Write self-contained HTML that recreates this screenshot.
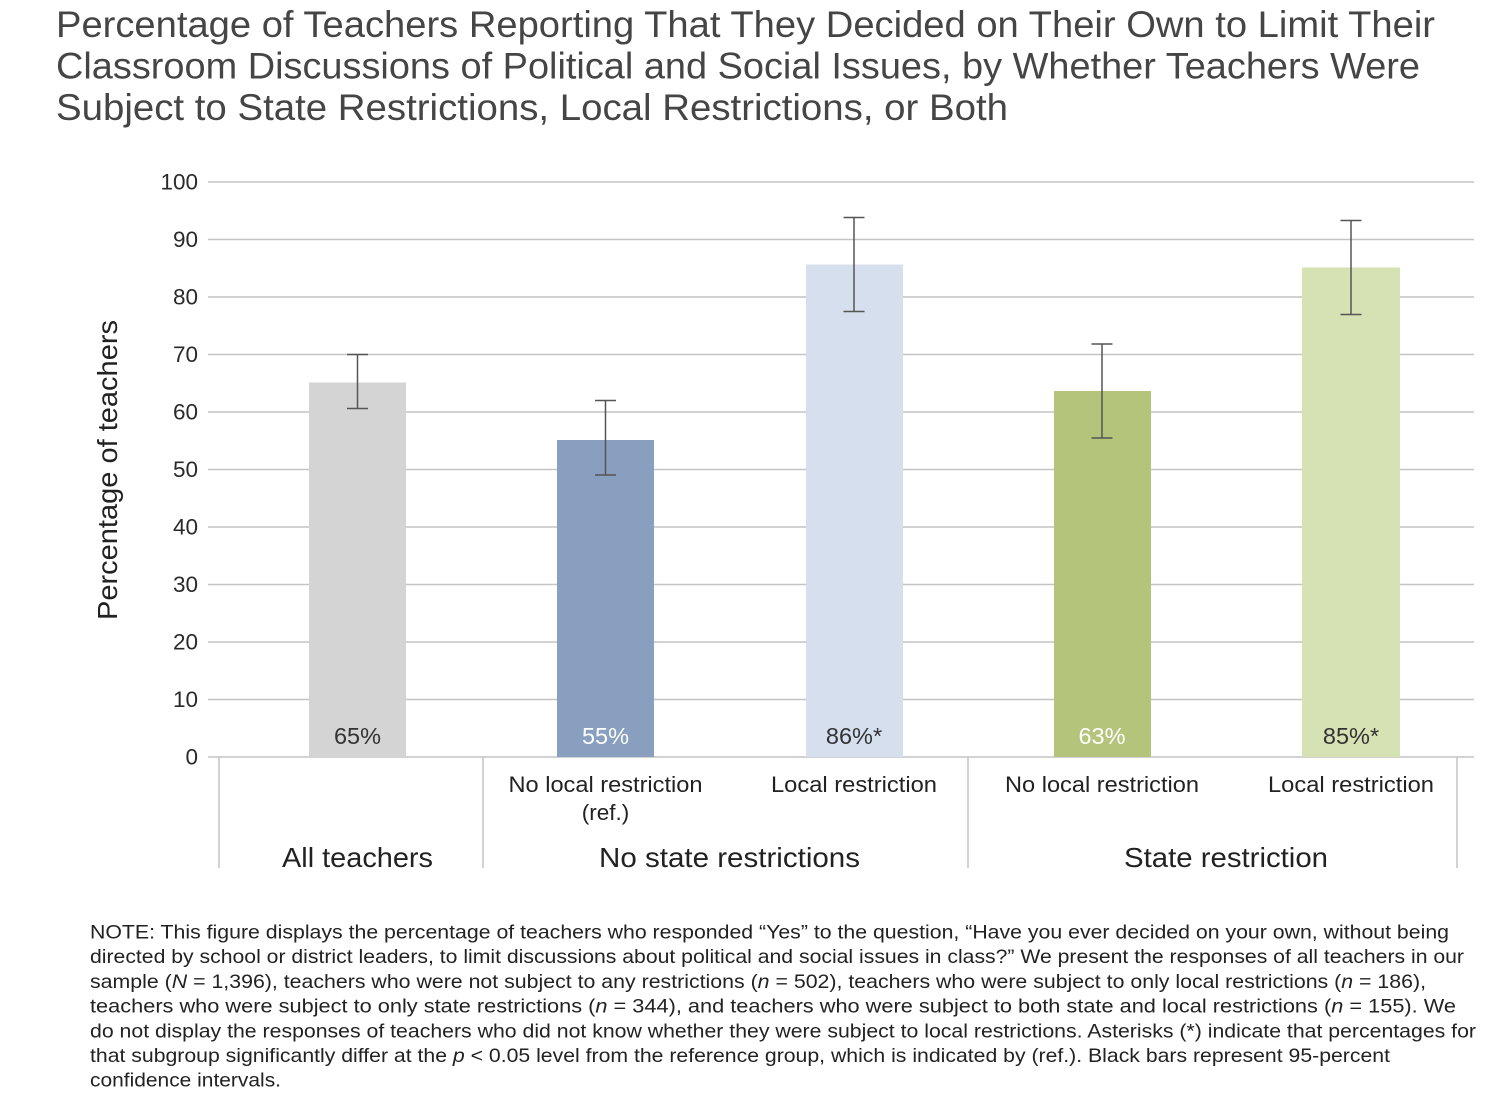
<!DOCTYPE html>
<html>
<head>
<meta charset="utf-8">
<style>
  html, body { margin: 0; padding: 0; background: #ffffff; }
  svg { display: block; }
  text { font-family: "Liberation Sans", "DejaVu Sans", sans-serif; }
</style>
</head>
<body>
<svg width="1500" height="1102" viewBox="0 0 1500 1102" xmlns="http://www.w3.org/2000/svg">
  <rect x="0" y="0" width="1500" height="1102" fill="#ffffff"/>

  <!-- Title -->
  <g fill="#454545" font-size="37">
    <text x="56" y="37" textLength="1379" lengthAdjust="spacingAndGlyphs">Percentage of Teachers Reporting That They Decided on Their Own to Limit Their</text>
    <text x="56" y="78.5" textLength="1364" lengthAdjust="spacingAndGlyphs">Classroom Discussions of Political and Social Issues, by Whether Teachers Were</text>
    <text x="56" y="120" textLength="952" lengthAdjust="spacingAndGlyphs">Subject to State Restrictions, Local Restrictions, or Both</text>
  </g>

  <!-- Gridlines -->
  <g stroke="#c4c4c4" stroke-width="1.5">
    <line x1="208" y1="182" x2="1474" y2="182"/>
    <line x1="208" y1="239.5" x2="1474" y2="239.5"/>
    <line x1="208" y1="297" x2="1474" y2="297"/>
    <line x1="208" y1="354.5" x2="1474" y2="354.5"/>
    <line x1="208" y1="412" x2="1474" y2="412"/>
    <line x1="208" y1="469.5" x2="1474" y2="469.5"/>
    <line x1="208" y1="527" x2="1474" y2="527"/>
    <line x1="208" y1="584.5" x2="1474" y2="584.5"/>
    <line x1="208" y1="642" x2="1474" y2="642"/>
    <line x1="208" y1="699.5" x2="1474" y2="699.5"/>
    <line x1="208" y1="757" x2="1474" y2="757"/>
  </g>

  <!-- Y tick labels -->
  <g fill="#2a2a2a" font-size="22.5" text-anchor="end">
    <text x="198" y="189.5">100</text>
    <text x="198" y="247">90</text>
    <text x="198" y="304.5">80</text>
    <text x="198" y="362">70</text>
    <text x="198" y="419.5">60</text>
    <text x="198" y="477">50</text>
    <text x="198" y="534.5">40</text>
    <text x="198" y="592">30</text>
    <text x="198" y="649.5">20</text>
    <text x="198" y="707">10</text>
    <text x="198" y="764.5">0</text>
  </g>

  <!-- Y axis title -->
  <text transform="translate(117,470) rotate(-90)" text-anchor="middle" font-size="28" fill="#222" textLength="300" lengthAdjust="spacingAndGlyphs">Percentage of teachers</text>

  <!-- Bars -->
  <rect x="309" y="382.5" width="97" height="374.5" fill="#d4d4d4"/>
  <rect x="557" y="440" width="97" height="317" fill="#889fbf"/>
  <rect x="806" y="264.5" width="97" height="492.5" fill="#d5dfee"/>
  <rect x="1054" y="391" width="97" height="366" fill="#b4c57b"/>
  <rect x="1302" y="267.5" width="98" height="489.5" fill="#d6e1b4"/>

  <!-- Error bars -->
  <g stroke="#555" stroke-width="1.5" fill="none">
    <line x1="357.5" y1="354.5" x2="357.5" y2="408.5"/>
    <line x1="347" y1="354.5" x2="368" y2="354.5"/>
    <line x1="347" y1="408.5" x2="368" y2="408.5"/>

    <line x1="605.5" y1="400.5" x2="605.5" y2="475"/>
    <line x1="595" y1="400.5" x2="616" y2="400.5"/>
    <line x1="595" y1="475" x2="616" y2="475"/>

    <line x1="854" y1="217.5" x2="854" y2="311.5"/>
    <line x1="843.5" y1="217.5" x2="864.5" y2="217.5"/>
    <line x1="843.5" y1="311.5" x2="864.5" y2="311.5"/>

    <line x1="1102" y1="344" x2="1102" y2="438"/>
    <line x1="1091.5" y1="344" x2="1112.5" y2="344"/>
    <line x1="1091.5" y1="438" x2="1112.5" y2="438"/>

    <line x1="1351" y1="220.5" x2="1351" y2="314.5"/>
    <line x1="1340.5" y1="220.5" x2="1361.5" y2="220.5"/>
    <line x1="1340.5" y1="314.5" x2="1361.5" y2="314.5"/>
  </g>

  <!-- Bar value labels -->
  <g font-size="23.5" text-anchor="middle">
    <text x="357.5" y="744" fill="#333">65%</text>
    <text x="605.5" y="744" fill="#ffffff">55%</text>
    <text x="854" y="744" fill="#333">86%*</text>
    <text x="1102" y="744" fill="#ffffff">63%</text>
    <text x="1351" y="744" fill="#333">85%*</text>
  </g>

  <!-- Category dividers -->
  <g stroke="#c4c4c4" stroke-width="1.5">
    <line x1="219" y1="757" x2="219" y2="868"/>
    <line x1="483" y1="757" x2="483" y2="868"/>
    <line x1="968" y1="757" x2="968" y2="868"/>
    <line x1="1457" y1="757" x2="1457" y2="868"/>
  </g>

  <!-- Sub category labels -->
  <g font-size="22.5" fill="#222" text-anchor="middle">
    <text x="605.5" y="792" textLength="194" lengthAdjust="spacingAndGlyphs">No local restriction</text>
    <text x="605.5" y="820">(ref.)</text>
    <text x="854" y="792" textLength="166" lengthAdjust="spacingAndGlyphs">Local restriction</text>
    <text x="1102" y="792" textLength="194" lengthAdjust="spacingAndGlyphs">No local restriction</text>
    <text x="1351" y="792" textLength="166" lengthAdjust="spacingAndGlyphs">Local restriction</text>
  </g>

  <!-- Group labels -->
  <g font-size="28" fill="#222" text-anchor="middle">
    <text x="357.5" y="867" textLength="151" lengthAdjust="spacingAndGlyphs">All teachers</text>
    <text x="729.5" y="867" textLength="261" lengthAdjust="spacingAndGlyphs">No state restrictions</text>
    <text x="1226" y="867" textLength="204" lengthAdjust="spacingAndGlyphs">State restriction</text>
  </g>

  <!-- Note -->
  <g font-size="19.5" fill="#222">
    <text x="90" y="938.5" textLength="1359" lengthAdjust="spacingAndGlyphs">NOTE: This figure displays the percentage of teachers who responded “Yes” to the question, “Have you ever decided on your own, without being</text>
    <text x="90" y="963.2" textLength="1374" lengthAdjust="spacingAndGlyphs">directed by school or district leaders, to limit discussions about political and social issues in class?” We present the responses of all teachers in our</text>
    <text x="90" y="987.9" textLength="1336" lengthAdjust="spacingAndGlyphs">sample (<tspan font-style="italic">N</tspan> = 1,396), teachers who were not subject to any restrictions (<tspan font-style="italic">n</tspan> = 502), teachers who were subject to only local restrictions (<tspan font-style="italic">n</tspan> = 186),</text>
    <text x="90" y="1012.6" textLength="1366" lengthAdjust="spacingAndGlyphs">teachers who were subject to only state restrictions (<tspan font-style="italic">n</tspan> = 344), and teachers who were subject to both state and local restrictions (<tspan font-style="italic">n</tspan> = 155). We</text>
    <text x="90" y="1037.3" textLength="1386" lengthAdjust="spacingAndGlyphs">do not display the responses of teachers who did not know whether they were subject to local restrictions. Asterisks (*) indicate that percentages for</text>
    <text x="90" y="1062" textLength="1300" lengthAdjust="spacingAndGlyphs">that subgroup significantly differ at the <tspan font-style="italic">p</tspan> &lt; 0.05 level from the reference group, which is indicated by (ref.). Black bars represent 95-percent</text>
    <text x="90" y="1086.7" textLength="191" lengthAdjust="spacingAndGlyphs">confidence intervals.</text>
  </g>
</svg>
</body>
</html>
